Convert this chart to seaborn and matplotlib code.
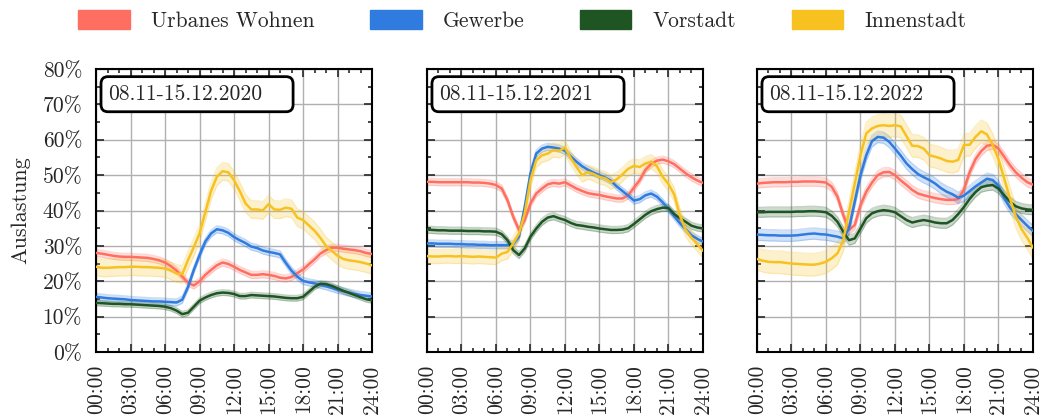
import numpy as np
import pandas as pd
import matplotlib
matplotlib.use("Agg")
import matplotlib.pyplot as plt
from matplotlib.patches import Patch, FancyBboxPatch
from matplotlib.ticker import MultipleLocator, FuncFormatter
import seaborn as sns

# half-hour grid, 00:00 .. 24:00
hours = np.arange(0, 24.5, 0.5)

groups = ["Urbanes Wohnen", "Gewerbe", "Vorstadt", "Innenstadt"]
colors = ["#ff6f61", "#2f7be0", "#1e5522", "#f7c21f"]
periods = ["08.11-15.12.2020", "08.11-15.12.2021", "08.11-15.12.2022"]

# --- 2020 ---
urban_2020 = [28.0, 27.8, 27.5, 27.2, 27.0, 26.9, 26.9, 26.8, 26.7, 26.6, 26.3, 25.9, 25.3, 24.3,
              23.0, 21.3, 19.6, 18.8, 20.0, 21.8, 23.2, 24.5, 25.3, 24.9, 24.1, 23.2, 22.5, 21.8,
              21.8, 22.0, 21.8, 21.5, 21.0, 20.8, 21.2, 22.3, 23.3, 24.8, 26.2, 27.8, 28.8, 29.5,
              29.5, 29.2, 29.0, 28.8, 28.5, 28.0, 27.7]
gewerbe_2020 = [15.6, 15.4, 15.2, 15.1, 15.0, 14.9, 14.7, 14.6, 14.5, 14.4, 14.3, 14.3, 14.2, 14.1,
                14.0, 14.8, 18.4, 23.2, 27.4, 31.2, 33.5, 34.7, 34.4, 33.7, 32.5, 31.6, 30.8, 29.8,
                29.4, 28.7, 28.3, 28.0, 27.6, 25.2, 23.0, 21.3, 20.1, 19.7, 19.4, 19.0, 18.6, 18.1,
                17.6, 17.2, 16.8, 16.4, 16.1, 15.9, 15.7]
vorstadt_2020 = [13.9, 13.8, 13.7, 13.6, 13.6, 13.5, 13.5, 13.4, 13.3, 13.2, 13.1, 13.0, 12.8, 12.4,
                 11.7, 10.7, 11.1, 12.8, 14.5, 15.4, 16.1, 16.6, 16.8, 16.7, 16.4, 15.8, 15.8, 16.1,
                 16.0, 15.9, 15.8, 15.7, 15.5, 15.3, 15.2, 15.2, 15.6, 17.0, 18.4, 19.3, 19.2, 18.7,
                 18.0, 17.3, 16.7, 16.1, 15.5, 14.9, 14.6]
innen_2020 = [24.1, 23.8, 23.8, 23.9, 24.0, 24.0, 24.1, 24.1, 24.0, 24.0, 23.9, 23.8, 23.6, 23.0,
              22.2, 22.0, 26.0, 29.6, 33.5, 39.5, 45.5, 49.5, 51.1, 50.8, 48.6, 45.5, 42.0, 40.3,
              40.3, 40.0, 41.8, 40.3, 40.2, 40.8, 40.5, 38.0, 37.3, 35.8, 34.3, 32.3, 30.0, 28.6,
              27.2, 26.3, 25.9, 25.7, 25.4, 25.0, 24.5]

# --- 2021 ---
urban_2021 = [48.1, 48.1, 48.0, 48.0, 48.0, 48.0, 48.0, 48.0, 47.9, 47.9, 47.8, 47.6, 47.2, 46.2,
              42.9, 38.2, 34.5, 37.3, 42.0, 44.8, 46.2, 47.4, 47.8, 47.6, 48.0, 47.1, 46.2, 45.5,
              44.9, 44.6, 44.4, 44.0, 43.7, 43.4, 43.4, 44.3, 46.5, 48.6, 51.5, 53.2, 54.1, 54.4,
              53.9, 53.1, 51.8, 50.5, 49.4, 48.5, 47.8]
gewerbe_2021 = [30.7, 30.7, 30.6, 30.6, 30.6, 30.5, 30.5, 30.4, 30.4, 30.3, 30.3, 30.2, 30.2, 30.2,
                30.2, 30.5, 32.6, 41.0, 50.5, 56.1, 57.5, 58.0, 57.8, 57.5, 56.9, 55.3, 53.8, 52.5,
                51.5, 50.7, 50.0, 49.3, 48.4, 46.8, 45.5, 44.2, 42.8, 43.2, 44.3, 44.8, 43.9, 42.3,
                40.4, 38.4, 36.4, 34.7, 33.0, 32.0, 31.2]
vorstadt_2021 = [34.6, 34.5, 34.4, 34.4, 34.3, 34.3, 34.3, 34.2, 34.2, 34.2, 34.1, 34.1, 34.0, 33.3,
                 31.6, 28.8, 27.4, 29.3, 32.6, 34.9, 36.8, 38.0, 38.4, 37.8, 37.3, 36.5, 35.9, 35.7,
                 35.4, 35.2, 34.9, 34.7, 34.5, 34.5, 34.6, 35.0, 36.2, 37.5, 38.8, 39.8, 40.4, 40.8,
                 40.7, 39.0, 37.8, 36.8, 35.7, 35.2, 34.9]
innen_2021 = [27.1, 27.0, 27.0, 27.1, 27.1, 27.0, 27.1, 27.0, 26.9, 27.0, 26.9, 26.8, 26.7, 27.8,
              28.3, 30.7, 33.5, 39.2, 48.6, 54.2, 55.6, 56.1, 57.1, 56.9, 57.8, 54.8, 52.3, 50.0,
              50.9, 50.3, 49.5, 49.1, 48.0, 48.8, 50.2, 51.8, 52.6, 52.3, 53.3, 53.8, 52.5, 49.5,
              47.5, 44.5, 38.5, 34.5, 32.3, 30.5, 28.6]

# --- 2022 ---
urban_2022 = [47.6, 47.8, 47.9, 48.0, 48.0, 48.0, 48.1, 48.1, 48.2, 48.2, 48.2, 48.1, 47.9, 46.7,
              43.9, 38.7, 34.5, 35.9, 41.5, 45.3, 47.9, 50.0, 50.8, 50.9, 50.0, 48.5, 47.2, 45.8,
              44.8, 44.3, 43.9, 43.5, 43.2, 43.0, 43.0, 43.2, 46.0, 50.9, 54.5, 56.8, 58.3, 58.6,
              57.5, 55.2, 52.8, 50.8, 49.3, 48.0, 47.3]
gewerbe_2022 = [33.2, 33.1, 33.0, 33.0, 32.9, 32.9, 32.9, 33.0, 33.2, 33.4, 33.5, 33.3, 33.2, 32.9,
                32.6, 32.1, 34.9, 42.5, 50.0, 55.6, 59.6, 60.8, 60.6, 59.4, 57.5, 55.5, 53.3, 51.7,
                50.3, 49.4, 48.6, 47.6, 46.3, 45.3, 44.6, 43.6, 44.2, 45.5, 46.8, 47.9, 49.0, 48.6,
                47.0, 43.5, 40.8, 39.0, 37.3, 35.7, 34.2]
vorstadt_2022 = [39.5, 39.5, 39.6, 39.6, 39.6, 39.6, 39.6, 39.7, 39.7, 39.8, 39.8, 39.7, 39.5, 38.5,
                 36.8, 34.0, 31.6, 32.1, 34.9, 37.8, 39.2, 39.8, 40.1, 39.9, 39.5, 38.4, 37.3, 36.6,
                 37.0, 37.3, 37.0, 36.6, 36.4, 36.4, 37.3, 39.0, 41.0, 43.3, 45.2, 46.6, 47.0, 47.2,
                 46.2, 44.3, 42.5, 41.2, 40.6, 40.3, 40.2]
innen_2022 = [26.3, 25.8, 25.5, 25.4, 25.4, 25.2, 25.0, 24.9, 24.8, 24.7, 24.7, 25.0, 25.5, 26.5,
              27.9, 31.6, 39.6, 47.6, 55.6, 61.8, 63.2, 63.9, 64.1, 63.9, 64.1, 63.8, 61.0, 58.3,
              58.2, 57.5, 55.6, 55.2, 54.7, 54.0, 53.8, 54.3, 58.5, 58.6, 60.8, 62.4, 61.5, 58.5,
              54.5, 49.0, 43.4, 38.3, 34.8, 32.3, 29.5]

# half width of the shaded band (percentage points) per group
band_2020 = [1.0, 1.0, 0.8, 2.5]
band_2021 = [1.0, 1.0, 1.0, 2.0]
band_2022 = [1.3, 1.6, 1.4, 3.2]

series = {
    periods[0]: ([urban_2020, gewerbe_2020, vorstadt_2020, innen_2020], band_2020),
    periods[1]: ([urban_2021, gewerbe_2021, vorstadt_2021, innen_2021], band_2021),
    periods[2]: ([urban_2022, gewerbe_2022, vorstadt_2022, innen_2022], band_2022),
}

rows = []
for p, (vals, bands) in series.items():
    for g, v, b in zip(groups, vals, bands):
        for h, y in zip(hours, v):
            rows.append({"period": p, "group": g, "hour": h, "value": y,
                         "lo": y - b, "hi": y + b})
df = pd.DataFrame(rows)

sns.set_style("ticks")
plt.rcParams["font.family"] = ["cmr10", "DejaVu Serif"]
plt.rcParams["axes.formatter.use_mathtext"] = True
plt.rcParams["mathtext.fontset"] = "cm"

fig = plt.figure(figsize=(10.45, 4.19), dpi=100)
lefts = [0.0919, 0.4086, 0.7244]
axes = [fig.add_axes([l, 0.1599, 0.2641, 0.6754]) for l in lefts]
palette = dict(zip(groups, colors))

for i, (ax, p) in enumerate(zip(axes, periods)):
    d = df[df.period == p]
    for g in groups:
        dg = d[d.group == g]
        ax.fill_between(dg.hour, dg.lo, dg.hi, color=palette[g], alpha=0.22, lw=0, zorder=2)
        ax.plot(dg.hour, dg.lo, color=palette[g], alpha=0.25, lw=0.9, zorder=2)
        ax.plot(dg.hour, dg.hi, color=palette[g], alpha=0.25, lw=0.9, zorder=2)
    sns.lineplot(data=d, x="hour", y="value", hue="group", hue_order=groups,
                 palette=palette, lw=1.8, legend=False, ax=ax, zorder=3)

    ax.set_xlim(0, 24)
    ax.set_ylim(0, 80)
    ax.xaxis.set_major_locator(MultipleLocator(3))
    ax.xaxis.set_minor_locator(MultipleLocator(1))
    ax.yaxis.set_major_locator(MultipleLocator(10))
    ax.yaxis.set_minor_locator(MultipleLocator(5))
    ax.set_xticks(range(0, 25, 3))
    ax.set_xticklabels([f"{h:02d}:00" for h in range(0, 25, 3)], rotation=90, fontsize=15.5)
    ax.grid(True, which="major", color="#b0b0b0", lw=1, zorder=0)
    ax.tick_params(which="both", direction="in", top=True, right=True, width=1.2)
    ax.tick_params(which="major", length=6)
    ax.tick_params(which="minor", length=3)
    ax.tick_params(axis="x", which="major", pad=9)
    for s in ax.spines.values():
        s.set_linewidth(1.5)
        s.set_color("black")
    ax.set_xlabel("")
    if i == 0:
        ax.yaxis.set_major_formatter(FuncFormatter(lambda v, pos: f"{int(v)}%"))
        ax.tick_params(axis="y", which="major", labelsize=15.5, pad=10)
        ax.set_ylabel("Auslastung", fontsize=16, labelpad=9)
    else:
        ax.set_yticklabels([])
        ax.set_ylabel("")

    box = FancyBboxPatch((0.018, 0.849), 0.696, 0.124,
                         boxstyle="round,pad=0,rounding_size=0.025",
                         transform=ax.transAxes, fc="white", ec="black", lw=2,
                         zorder=5, clip_on=False)
    ax.add_patch(box)
    ax.text(0.045, 0.911, p, transform=ax.transAxes, ha="left", va="center",
            fontsize=15.5, zorder=6)

handles = [Patch(facecolor=c, edgecolor=c, label=g) for g, c in zip(groups, colors)]
fig.legend(handles=handles, loc="center", bbox_to_anchor=(0.5, 0.952), ncol=4,
           frameon=False, fontsize=15.5, handlelength=2.4, handleheight=1.0,
           handletextpad=1.0, columnspacing=2.55)

fig.savefig("out.png", dpi=100)
